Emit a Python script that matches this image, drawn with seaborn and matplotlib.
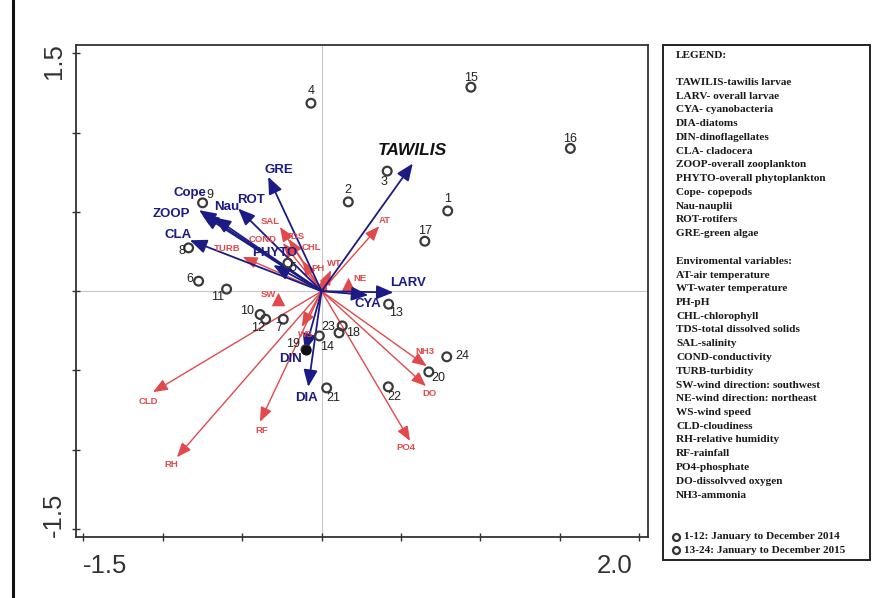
import matplotlib
matplotlib.use("Agg")
import matplotlib.pyplot as plt
import matplotlib.transforms as mtrans
import seaborn as sns
import pandas as pd
import numpy as np
from matplotlib.lines import Line2D
from matplotlib.patches import Rectangle

# Sample scores (months 1-24)
month_ids = [str(i) for i in range(1, 25)]
month_x = [0.794, 0.168, 0.413, -0.067, -0.212, -0.774, -0.241, -0.837, -0.749, -0.387,
           -0.598, -0.352, 0.422, -0.014, 0.940, 1.566, 0.650, 0.110, -0.098, 0.675,
           0.032, 0.420, 0.130, 0.788]
month_y = [0.506, 0.563, 0.757, 1.185, 0.177, 0.063, -0.177, 0.273, 0.557, -0.147,
           0.013, -0.177, -0.082, -0.282, 1.286, 0.900, 0.315, -0.263, -0.368, -0.509,
           -0.610, -0.603, -0.219, -0.414]

# Species (blue) arrows
species = ["TAWILIS", "GRE", "Cope", "ZOOP", "Nau", "ROT", "CLA", "PHYTO", "LARV", "CYA", "DIN", "DIA"]
species_x = [0.574, -0.336, -0.771, -0.754, -0.678, -0.525, -0.829, -0.304, 0.452, 0.294, -0.105, -0.084]
species_y = [0.805, 0.721, 0.511, 0.485, 0.466, 0.521, 0.321, 0.164, -0.008, -0.025, -0.376, -0.603]

# Environmental (red) arrows
env = ["AT", "WT", "PH", "CHL", "TDS", "SAL", "COND", "TURB", "WS", "CLD", "RH", "RF", "PO4", "DO", "NH3"]
env_x = [0.363, 0.059, 0.021, -0.119, -0.205, -0.262, -0.243, -0.497, -0.125, -1.061, -0.911, -0.388, 0.557, 0.657, 0.662]
env_y = [0.410, 0.132, 0.095, 0.191, 0.328, 0.405, 0.303, 0.216, -0.225, -0.637, -1.047, -0.824, -0.944, -0.599, -0.473]

# Nominal wind direction centroids
wind = ["NE", "SW"]
wind_x = [0.168, -0.273]
wind_y = [0.044, -0.052]

legend_lines = [
    "LEGEND:", "",
    "TAWILIS-tawilis larvae", "LARV- overall larvae", "CYA- cyanobacteria", "DIA-diatoms",
    "DIN-dinoflagellates", "CLA- cladocera", "ZOOP-overall zooplankton",
    "PHYTO-overall phytoplankton", "Cope- copepods", "Nau-nauplii", "ROT-rotifers",
    "GRE-green algae", "",
    "Enviromental variables:", "AT-air temperature", "WT-water temperature", "PH-pH",
    "CHL-chlorophyll", "TDS-total dissolved solids", "SAL-salinity", "COND-conductivity",
    "TURB-turbidity", "SW-wind direction: southwest", "NE-wind direction: northeast",
    "WS-wind speed", "CLD-cloudiness", "RH-relative humidity", "RF-rainfall",
    "PO4-phosphate", "DO-dissolvved oxygen", "NH3-ammonia",
]
period_lines = ["1-12: January to December 2014", "13-24: January to December 2015"]

BLUE = "#1b1b86"
RED = "#e2494b"

# label offsets in pixels (dx, dy)
month_off = {"1": (0, 12), "2": (0, 12), "3": (-3, -11), "4": (0, 12), "5": (5, -5),
             "6": (-9, 2), "7": (-4, -9), "8": (-7, -3), "9": (7, 8), "10": (-13, 3),
             "11": (-9, -8), "12": (-8, -9), "13": (7, -9), "14": (8, -11), "15": (0, 9),
             "16": (0, 9), "17": (0, 10), "18": (14, 0), "19": (-13, 6), "20": (10, -6),
             "21": (7, -10), "22": (6, -10), "23": (-14, -1), "24": (16, 1)}
species_off = {"TAWILIS": (0, 13), "GRE": (11, 7), "Cope": (-9, 17), "ZOOP": (-30, 0),
               "Nau": (13, 10), "ROT": (13, 9), "CLA": (-12, 5), "PHYTO": (1, 12),
               "LARV": (15, 9), "CYA": (0, -9), "DIN": (-14, -8), "DIA": (-2, -11)}
env_off = {"AT": (6, 6), "WT": (3, 7), "PH": (-7, 8), "CHL": (9, 13), "TDS": (6, 3),
           "SAL": (-10, 5), "COND": (-20, 4), "TURB": (-16, 8), "WS": (4, -8),
           "CLD": (-5, -9), "RH": (-6, -7), "RF": (2, -9), "PO4": (-4, -7),
           "DO": (4, -7), "NH3": (-2, 15)}
wind_off = {"NE": (12, 6), "SW": (-10, 5)}

sns.set_style("white")
plt.rcParams["font.family"] = ["Liberation Sans", "DejaVu Sans"]

fig = plt.figure(figsize=(8.96, 5.98), dpi=100)
ax = fig.add_axes([0.0848, 0.1020, 0.6381, 0.8227])
ax.set_xlim(-1.546, 2.053)
ax.set_ylim(-1.550, 1.552)

ax.axhline(0, color="#c8c8c8", lw=0.8, zorder=0)
ax.axvline(0, color="#c8c8c8", lw=0.8, zorder=0)

# red environmental arrows
for name, x, y in zip(env, env_x, env_y):
    ax.annotate("", xy=(x, y), xytext=(0, 0),
                arrowprops=dict(arrowstyle="-|>,head_length=0.55,head_width=0.22",
                                color=RED, lw=1.0, shrinkA=0, shrinkB=0, mutation_scale=16),
                zorder=2)
    dx, dy = env_off[name]
    ax.annotate(name, xy=(x, y), xytext=(dx, dy), textcoords="offset pixels",
                ha="center", va="center", color=RED, fontsize=6.8, fontweight="bold", zorder=5)

# wind direction triangles
ax.scatter(wind_x, wind_y, marker="^", s=95, color=RED, zorder=3, linewidths=0)
for name, x, y in zip(wind, wind_x, wind_y):
    dx, dy = wind_off[name]
    ax.annotate(name, xy=(x, y), xytext=(dx, dy), textcoords="offset pixels",
                ha="center", va="center", color=RED, fontsize=6.8, fontweight="bold", zorder=5)

# blue species arrows
for name, x, y in zip(species, species_x, species_y):
    ax.annotate("", xy=(x, y), xytext=(0, 0),
                arrowprops=dict(arrowstyle="-|>,head_length=0.6,head_width=0.25",
                                color=BLUE, lw=1.3, shrinkA=0, shrinkB=0, mutation_scale=17),
                zorder=3)
    dx, dy = species_off[name]
    if name == "TAWILIS":
        ax.annotate(name, xy=(x, y), xytext=(dx, dy), textcoords="offset pixels",
                    ha="center", va="center", color="#111111", fontsize=12.5,
                    fontweight="bold", fontstyle="italic", zorder=5)
    else:
        ax.annotate(name, xy=(x, y), xytext=(dx, dy), textcoords="offset pixels",
                    ha="center", va="center", color=BLUE, fontsize=9.5,
                    fontweight="bold", zorder=5)

# sample points
df = pd.DataFrame({"x": month_x, "y": month_y, "id": month_ids})
sns.scatterplot(data=df, x="x", y="y", ax=ax, s=40, marker="o",
                facecolor="none", edgecolor="#3a3a3a", linewidth=1.6, zorder=4, legend=False)
# month 19 sits under the DIN arrow head and shows as a filled dot
ax.scatter([month_x[18]], [month_y[18]], s=40, color="#111111", zorder=4)
for mid, x, y in zip(month_ids, month_x, month_y):
    dx, dy = month_off[mid]
    ax.annotate(mid, xy=(x, y), xytext=(dx, dy), textcoords="offset pixels",
                ha="center", va="center", color="#222222", fontsize=9, zorder=5)

ax.set_xlabel("")
ax.set_ylabel("")
ax.set_xticks(np.arange(-1.5, 2.01, 0.5))
ax.set_xticklabels(["-1.5", "", "", "", "", "", "", "2.0"])
ax.set_yticks(np.arange(-1.5, 1.51, 0.5))
ax.set_yticklabels(["-1.5", "", "", "", "", "", "1.5"], rotation=90, va="center")
ax.tick_params(direction="inout", length=6, width=1, color="#333333",
               labelsize=18.5, labelcolor="#333333", bottom=True, left=True)
ax.tick_params(axis="x", pad=9)
ax.tick_params(axis="y", pad=4)
for sp in ax.spines.values():
    sp.set_color("#333333")
    sp.set_linewidth(1.3)

# nudge end tick labels inward
xl = ax.get_xticklabels()
xl[0].set_transform(xl[0].get_transform() + mtrans.ScaledTranslation(22 / 100, 0, fig.dpi_scale_trans))
xl[-1].set_transform(xl[-1].get_transform() + mtrans.ScaledTranslation(-25 / 100, 0, fig.dpi_scale_trans))
yl = ax.get_yticklabels()
yl[0].set_transform(yl[0].get_transform() + mtrans.ScaledTranslation(0, 14 / 100, fig.dpi_scale_trans))
yl[-1].set_transform(yl[-1].get_transform() + mtrans.ScaledTranslation(0, -8 / 100, fig.dpi_scale_trans))

# outer frame line at left
fig.add_artist(Line2D([12.5 / 896, 12.5 / 896], [0, 1], color="#111111", lw=2.2))

# legend box
W, H = 896.0, 598.0
box_l, box_r, box_t, box_b = 662.5, 870.0, 45.0, 560.0
fig.add_artist(Rectangle((box_l / W, 1 - box_b / H), (box_r - box_l) / W, (box_b - box_t) / H,
                         fill=False, edgecolor="#222222", lw=1.4))
y0, step = 55.0, 13.75
for i, line in enumerate(legend_lines):
    if line:
        fig.text(676 / W, 1 - (y0 + i * step) / H, line, ha="left", va="center",
                 fontsize=8.1, fontweight="bold", color="#1a1a1a",
                 family=["Liberation Serif", "DejaVu Serif"])
for j, line in enumerate(period_lines):
    yy = 536.7 + j * 13.5
    fig.add_artist(Line2D([675.5 / W], [1 - yy / H], marker="o", markersize=5,
                          markerfacecolor="none", markeredgecolor="#333333", mew=1.6, lw=0))
    fig.text(684 / W, 1 - yy / H, line, ha="left", va="center",
             fontsize=8.1, fontweight="bold", color="#1a1a1a",
             family=["Liberation Serif", "DejaVu Serif"])

fig.savefig("out.png", dpi=100)
